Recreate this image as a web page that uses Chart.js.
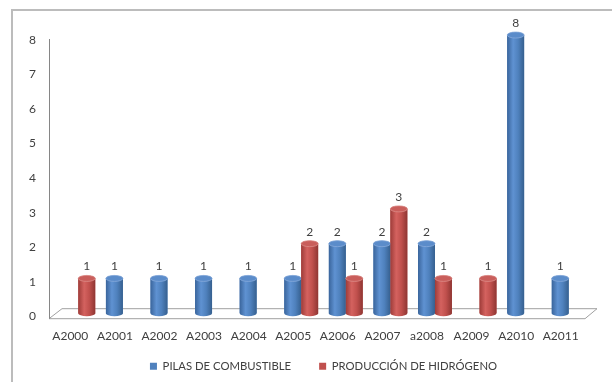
<!DOCTYPE html>
<html>
<head>
<meta charset="utf-8">
<script src="https://cdn.jsdelivr.net/npm/chart.js@4/dist/chart.umd.min.js"></script>
<style>
  html, body { margin: 0; padding: 0; background: #ffffff; }
  #wrap { width: 612px; height: 382px; position: relative; }
</style>
</head>
<body>
<div id="wrap"><canvas id="c" width="612" height="382"></canvas></div>
<script>
// Categories and series values
const categories = ['A2000', 'A2001', 'A2002', 'A2003', 'A2004', 'A2005', 'A2006', 'A2007', 'a2008', 'A2009', 'A2010', 'A2011'];
const pilasCombustible = [null, 1, 1, 1, 1, 1, 2, 2, 2, null, 8, 1];
const produccionHidrogeno = [1, null, null, null, null, 2, 1, 3, 1, 1, null, null];
const seriesNames = ['PILAS DE COMBUSTIBLE', 'PRODUCCIÓN DE HIDRÓGENO'];
const yTickValues = [0, 1, 2, 3, 4, 5, 6, 7, 8];

const FONT = 'Lato';
const TEXT = '#404040';

// Colour ramps for the cylinder bodies (left edge -> highlight -> right edge)
const palettes = [
  { base: '#4f81bd', stops: ['#3a659c', '#5f92d2', '#4f81bd', '#36608f'], cap: '#5b8cca', rim: '#86aadb' },
  { base: '#c0504d', stops: ['#9e3c39', '#d4625f', '#c0504d', '#8f3633'], cap: '#c95e5b', rim: '#dc8b88' }
];

// Outer frame, 3-D floor and vertical axis line
const framePlugin = {
  id: 'frame',
  beforeDraw(chart) {
    const ctx = chart.ctx;
    ctx.save();
    ctx.strokeStyle = '#bcbcbc';
    ctx.lineWidth = 2;
    ctx.beginPath();
    ctx.moveTo(12, 382);
    ctx.lineTo(12, 10);
    ctx.lineTo(612, 10);
    ctx.stroke();
    ctx.restore();
  },
  beforeDatasetsDraw(chart) {
    const ctx = chart.ctx;
    const a = chart.chartArea;
    const front = a.bottom, back = a.bottom - 10;
    ctx.save();
    ctx.lineWidth = 1;
    ctx.strokeStyle = '#a0a0a0';
    ctx.beginPath();
    ctx.moveTo(a.left - 7, front + 0.5);
    ctx.lineTo(a.right - 6, front + 0.5);
    ctx.lineTo(a.right + 6, back + 0.5);
    ctx.lineTo(a.left + 6, back + 0.5);
    ctx.closePath();
    ctx.stroke();
    ctx.strokeStyle = '#868686';
    ctx.beginPath();
    ctx.moveTo(a.left - 6.5, a.top + 6);
    ctx.lineTo(a.left - 6.5, front + 0.5);
    ctx.stroke();
    ctx.restore();
  }
};

// Cylinder shading and value labels on top of each bar
const cylinderPlugin = {
  id: 'cylinders',
  afterDatasetsDraw(chart) {
    const ctx = chart.ctx;
    const ry = 3;
    chart.data.datasets.forEach((ds, di) => {
      const meta = chart.getDatasetMeta(di);
      const pal = palettes[di];
      meta.data.forEach((bar, i) => {
        const v = ds.data[i];
        if (v == null) return;
        const { x, y, base, width } = bar.getProps(['x', 'y', 'base', 'width'], true);
        const l = x - width / 2, r = x + width / 2;
        ctx.save();
        const g = ctx.createLinearGradient(l, 0, r, 0);
        g.addColorStop(0, pal.stops[0]);
        g.addColorStop(0.35, pal.stops[1]);
        g.addColorStop(0.65, pal.stops[2]);
        g.addColorStop(1, pal.stops[3]);
        ctx.fillStyle = g;
        ctx.beginPath();
        ctx.moveTo(l, y);
        ctx.lineTo(l, base);
        ctx.ellipse(x, base, width / 2, ry, 0, Math.PI, 0, true);
        ctx.lineTo(r, y);
        ctx.ellipse(x, y, width / 2, ry, 0, 0, Math.PI, true);
        ctx.closePath();
        ctx.fill();
        // top cap
        ctx.beginPath();
        ctx.ellipse(x, y, width / 2, ry, 0, 0, Math.PI * 2);
        ctx.fillStyle = pal.cap;
        ctx.fill();
        ctx.strokeStyle = pal.rim;
        ctx.lineWidth = 0.8;
        ctx.stroke();
        // value label
        ctx.fillStyle = TEXT;
        ctx.font = '12px ' + FONT;
        ctx.textAlign = 'center';
        ctx.textBaseline = 'middle';
        ctx.fillText(String(v), x, y - 12);
        ctx.restore();
      });
    });
  }
};

new Chart(document.getElementById('c'), {
  type: 'bar',
  data: {
    labels: categories,
    datasets: [
      { label: seriesNames[0], data: pilasCombustible, backgroundColor: palettes[0].base, yAxisID: 'y' },
      { label: seriesNames[1], data: produccionHidrogeno, backgroundColor: palettes[1].base, yAxisID: 'y' }
    ]
  },
  options: {
    responsive: false,
    devicePixelRatio: 1,
    animation: false,
    categoryPercentage: 0.76,
    barPercentage: 1,
    layout: { padding: { top: 33, right: 21, left: 0, bottom: 0 } },
    plugins: {
      tooltip: { enabled: false },
      legend: {
        position: 'bottom',
        fullSize: false,
        labels: {
          boxWidth: 7,
          boxHeight: 7,
          padding: 28,
          color: TEXT,
          font: { family: FONT, size: 11.3 }
        }
      }
    },
    scales: {
      x: {
        offset: true,
        grid: { display: false, drawTicks: false },
        border: { display: false },
        ticks: {
          color: TEXT,
          font: { family: FONT, size: 12 },
          labelOffset: -8,
          padding: 11,
          maxRotation: 0,
          autoSkip: false
        },
        afterFit(s) {
          s.height = 14.5;
          // labels sit below the axis box, above the legend; draw them unclipped
          s._computeLabelArea = () => undefined;
        }
      },
      y: {
        display: false,
        min: -0.144,
        max: 8.058
      },
      yLab: {
        position: 'left',
        min: -0.058,
        max: 8.203,
        grid: { display: false, drawTicks: false },
        border: { display: false },
        ticks: {
          color: TEXT,
          font: { family: FONT, size: 12 },
          padding: 20
        },
        afterBuildTicks(s) { s.ticks = yTickValues.map(v => ({ value: v })); },
        afterFit(s) { s.width = 56; }
      }
    }
  },
  plugins: [framePlugin, cylinderPlugin]
});
</script>
</body>
</html>
